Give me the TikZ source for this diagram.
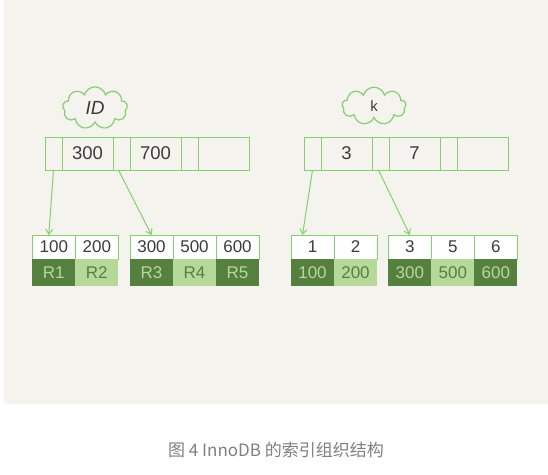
\documentclass[tikz,border=0pt]{standalone}
\usepackage{fontspec}
\setmainfont{Liberation Sans}
\newfontfamily\cjkfont{Noto Sans CJK SC}
\usetikzlibrary{arrows.meta,positioning,shapes.symbols}
\definecolor{PanelCream}{HTML}{F4F3EE}
\definecolor{EdgeGreen}{HTML}{86CF70}
\definecolor{LeafDark}{HTML}{55803F}
\definecolor{LeafLight}{HTML}{B6D99A}
\definecolor{InkGray}{HTML}{3C3C3C}
\definecolor{CaptionGray}{HTML}{808080}
\tikzset{
  cellbox/.style={draw=EdgeGreen, line width=1pt, minimum height=33pt,
    inner sep=0pt, outer sep=0pt, text=InkGray, font=\fontsize{18.5}{18.5}\selectfont},
  ptrcell/.style={cellbox, minimum width=17pt},
  keycell/.style={cellbox, minimum width=51pt},
  leafcell/.style={minimum width=43pt, inner sep=0pt, outer sep=0pt,
    font=\fontsize{17}{17}\selectfont},
  leaftop/.style={leafcell, draw=EdgeGreen, fill=white, line width=1pt,
    minimum height=24pt, text=InkGray},
  leafdark/.style={leafcell, fill=LeafDark, minimum height=27pt, text=LeafLight},
  leaflight/.style={leafcell, fill=LeafLight, minimum height=27pt, text=LeafDark},
  tagcloud/.style={cloud, cloud puffs=9, aspect=2.2, draw=EdgeGreen,
    line width=1.2pt, minimum width=64pt, minimum height=30pt, text=InkGray},
  ptrarrow/.style={draw=EdgeGreen, line width=1pt,
    -{Straight Barb[length=5pt,width=7pt]}}
}
\begin{document}
\begin{tikzpicture}[x=1pt,y=-1pt]
  \useasboundingbox (0,0) rectangle (548,474);
  \fill[white] (0,0) rectangle (548,474);
  \fill[PanelCream, rounded corners=4pt] (3.5,-10) rectangle (560,404);

  % index on ID
  \node[tagcloud, font=\fontsize{19}{19}\selectfont\itshape] (idtag) at (95,108) {ID};
  \node[ptrcell, anchor=west] (id1) at (45,153.6) {};
  \node[keycell, right=0pt of id1] (id2) {300};
  \node[ptrcell, right=0pt of id2] (id3) {};
  \node[keycell, right=0pt of id3] (id4) {700};
  \node[ptrcell, right=0pt of id4] (id5) {};
  \node[keycell, right=0pt of id5] (id6) {};

  % leaves of ID
  \node[leaftop, anchor=north west] (la1) at (32.3,235) {100};
  \node[leaftop, right=0pt of la1] (la2) {200};
  \node[leafdark, below=0pt of la1] (ra1) {R1};
  \node[leaflight, below=0pt of la2] (ra2) {R2};
  \node[leaftop, anchor=north west] (lb1) at (130,235) {300};
  \node[leaftop, right=0pt of lb1] (lb2) {500};
  \node[leaftop, right=0pt of lb2] (lb3) {600};
  \node[leafdark, below=0pt of lb1] (rb1) {R3};
  \node[leaflight, below=0pt of lb2] (rb2) {R4};
  \node[leafdark, below=0pt of lb3] (rb3) {R5};

  % index on k
  \node[tagcloud, font=\fontsize{15}{15}\selectfont] (ktag) at (374,106) {k};
  \node[ptrcell, anchor=west] (k1) at (304,153.6) {};
  \node[keycell, right=0pt of k1] (k2) {3};
  \node[ptrcell, right=0pt of k2] (k3) {};
  \node[keycell, right=0pt of k3] (k4) {7};
  \node[ptrcell, right=0pt of k4] (k5) {};
  \node[keycell, right=0pt of k5] (k6) {};

  % leaves of k
  \node[leaftop, anchor=north west] (lc1) at (291,235) {1};
  \node[leaftop, right=0pt of lc1] (lc2) {2};
  \node[leafdark, below=0pt of lc1] (rc1) {100};
  \node[leaflight, below=0pt of lc2] (rc2) {200};
  \node[leaftop, anchor=north west] (ld1) at (388.3,235) {3};
  \node[leaftop, right=0pt of ld1] (ld2) {5};
  \node[leaftop, right=0pt of ld2] (ld3) {6};
  \node[leafdark, below=0pt of ld1] (rd1) {300};
  \node[leaflight, below=0pt of ld2] (rd2) {500};
  \node[leafdark, below=0pt of ld3] (rd3) {600};

  % pointers
  \draw[ptrarrow] (id1.south) -- ([xshift=-5pt]la1.north);
  \draw[ptrarrow] ([xshift=-3pt]id3.south) -- (lb1.north);
  \draw[ptrarrow] (k1.south) -- ([xshift=-10pt]lc1.north);
  \draw[ptrarrow] ([xshift=-2pt]k3.south) -- (ld1.north);

  \node[text=CaptionGray, font=\fontsize{17}{17}\cjkfont] (caption) at (276,450)
    {图 4 InnoDB 的索引组织结构};
\end{tikzpicture}
\end{document}
